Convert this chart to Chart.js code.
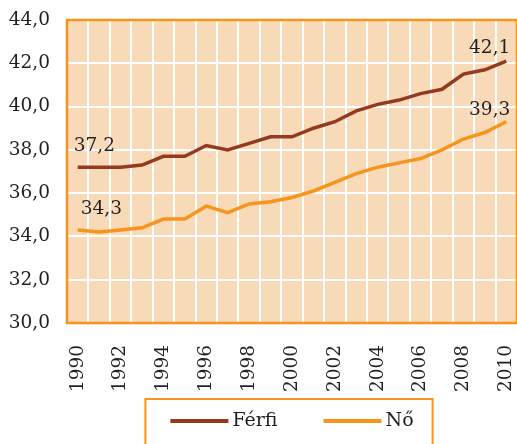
<!DOCTYPE html>
<html><head><meta charset="utf-8">
<script src="https://cdn.jsdelivr.net/npm/chart.js@4/dist/chart.umd.min.js"></script>
<style>html,body{margin:0;padding:0;background:#fff}#wrap{width:517px;height:444px;position:relative}</style>
</head><body><div id="wrap"><canvas id="c"></canvas></div>
<script>
const years = ['1990','1991','1992','1993','1994','1995','1996','1997','1998','1999','2000','2001','2002','2003','2004','2005','2006','2007','2008','2009','2010'];
const ferfi = [37.2,37.2,37.2,37.3,37.7,37.7,38.2,38.0,38.3,38.6,38.6,39.0,39.3,39.8,40.1,40.3,40.6,40.8,41.5,41.7,42.1];
const no = [34.3,34.2,34.3,34.4,34.8,34.8,35.4,35.1,35.5,35.6,35.8,36.1,36.5,36.9,37.2,37.4,37.6,38.0,38.5,38.8,39.3];
const yMin = 30, yMax = 44, yStep = 2;
const seriesNames = ['Férfi','Nő'];

const FONT = {family:'"DejaVu Serif", "Liberation Serif", serif', size:18.5};
const TXT = '#231F20';
const ORANGE = '#F7941D';
const DARKRED = '#943A1F';
const PEACH = '#F8DAB9';
const fmt = v => v.toFixed(1).replace('.', ',');

const areaPlugin = {
  id:'area',
  beforeDraw(chart){
    const {ctx, chartArea:a} = chart;
    const sx = chart.scales.x, sy = chart.scales.y;
    ctx.save(); ctx.fillStyle = PEACH;
    ctx.fillRect(a.left, a.top, a.right-a.left, a.bottom-a.top);
    ctx.strokeStyle = '#FFFFFF'; ctx.lineWidth = 2;
    ctx.beginPath();
    sy.ticks.forEach(t => { const y = Math.round(sy.getPixelForValue(t.value)); ctx.moveTo(a.left, y); ctx.lineTo(a.right, y); });
    const n = sx.ticks.length;
    const half = (sx.getPixelForTick(1) - sx.getPixelForTick(0)) / 2;
    for (let i = 0; i <= n; i++) {
      const x = Math.round((i < n ? sx.getPixelForTick(i) : sx.getPixelForTick(n-1) + 2*half) - half);
      ctx.moveTo(x, a.top); ctx.lineTo(x, a.bottom);
    }
    ctx.stroke();
    ctx.restore();
  },
  afterDatasetsDraw(chart){
    const {ctx, chartArea:a} = chart;
    ctx.save(); ctx.strokeStyle = ORANGE; ctx.lineWidth = 2.5;
    ctx.strokeRect(a.left, a.top, a.right-a.left, a.bottom-a.top);
    ctx.restore();
  }
};

const endLabels = {
  id:'endLabels',
  afterDatasetsDraw(chart){
    const {ctx} = chart;
    ctx.save();
    ctx.font = `${FONT.size}px ${FONT.family}`;
    ctx.fillStyle = TXT;
    ctx.textBaseline = 'alphabetic';
    const firstOff = [[-4,-16.5],[3,-16]];
    const lastOff = [[4,-8],[4,-7]];
    chart.data.datasets.forEach((ds,i) => {
      const meta = chart.getDatasetMeta(i);
      const p0 = meta.data[0], p1 = meta.data[meta.data.length-1];
      ctx.textAlign = 'left';
      ctx.fillText(fmt(ds.data[0]), p0.x + firstOff[i][0], p0.y + firstOff[i][1]);
      ctx.textAlign = 'right';
      ctx.fillText(fmt(ds.data[ds.data.length-1]), p1.x + lastOff[i][0], p1.y + lastOff[i][1]);
    });
    ctx.restore();
  }
};

const boxLegend = {
  id:'boxLegend',
  afterDraw(chart){
    const {ctx, chartArea:a} = chart;
    const ds = chart.data.datasets;
    ctx.save();
    ctx.font = `19px ${FONT.family}`;
    const sample = 58, gap = 4, spacing = 46;
    const widths = ds.map(d => ctx.measureText(d.label).width);
    let total = 0;
    widths.forEach((w,i) => { total += sample + gap + w + (i < widths.length-1 ? spacing : 0); });
    const cx = (a.left + a.right) / 2;
    let x = cx - total / 2;
    const y = a.bottom + 98;
    const left = x - 25, right = x + total + 19, top = y - 22;
    ctx.strokeStyle = ORANGE; ctx.lineWidth = 2;
    ctx.strokeRect(left, top, right - left, chart.height + 10 - top);
    ctx.textBaseline = 'middle'; ctx.textAlign = 'left';
    ds.forEach((d,i) => {
      ctx.fillStyle = d.borderColor;
      ctx.fillRect(x, y - 2, sample, 4);
      ctx.fillStyle = TXT;
      ctx.fillText(d.label, x + sample + gap, y);
      x += sample + gap + widths[i] + spacing;
    });
    ctx.restore();
  }
};

new Chart(document.getElementById('c'), {
  type:'line',
  data:{
    labels: years,
    datasets:[
      {label:seriesNames[0], data:ferfi, borderColor:DARKRED, backgroundColor:DARKRED, borderWidth:3.5, pointRadius:0, tension:0},
      {label:seriesNames[1], data:no, borderColor:ORANGE, backgroundColor:ORANGE, borderWidth:3.5, pointRadius:0, tension:0}
    ]
  },
  plugins:[areaPlugin, endLabels, boxLegend],
  options:{
    responsive:true, maintainAspectRatio:false, animation:false,
    layout:{padding:{left:8, top:20, right:0, bottom:51}},
    scales:{
      x:{
        type:'category', offset:true,
        grid:{color:'#FFFFFF', lineWidth:2, offset:true, drawTicks:false},
        border:{display:false},
        ticks:{autoSkip:false, minRotation:90, maxRotation:90, padding:22, color:TXT, font:FONT,
          callback:function(v, i){ return i % 2 === 0 ? this.getLabelForValue(v) : ''; }},
        afterFit(s){ s.height = 70; s.paddingLeft = 0; s.paddingRight = 0; }
      },
      y:{
        min:yMin, max:yMax,
        grid:{color:'#FFFFFF', lineWidth:2, drawTicks:false},
        border:{display:false},
        ticks:{stepSize:yStep, padding:17, color:TXT, font:FONT, callback:v => fmt(v)},
        afterFit(s){ s.width = 59; s.paddingTop = 0; s.paddingBottom = 0; }
      }
    },
    plugins:{ tooltip:{enabled:false}, legend:{display:false} }
  }
});
</script>
</body></html>
